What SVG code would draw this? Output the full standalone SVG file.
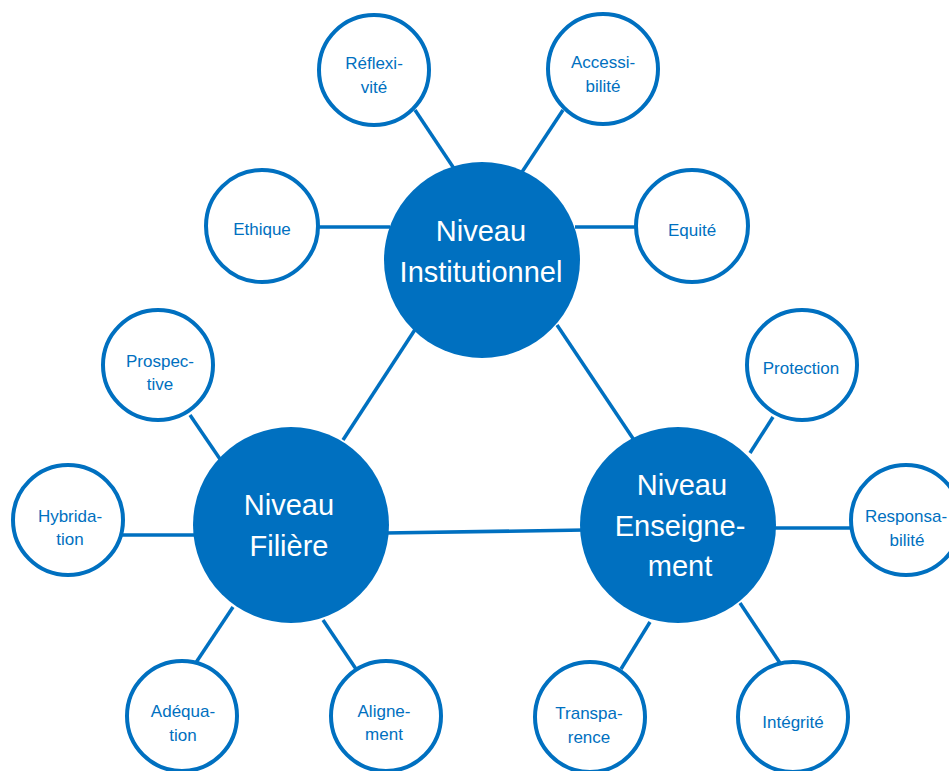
<svg xmlns="http://www.w3.org/2000/svg" width="949" height="771" viewBox="0 0 949 771">
<style>
.big{fill:#0070C0;}
.small{fill:#ffffff;stroke:#0070C0;stroke-width:4;}
.bt{font-family:"Liberation Sans",Arial,sans-serif;font-size:29px;fill:#ffffff;text-anchor:middle;}
.st{font-family:"Liberation Sans",Arial,sans-serif;font-size:17px;fill:#0070C0;text-anchor:middle;}
.conn line{stroke:#0070C0;stroke-width:3.5;}
</style>
<rect width="949" height="771" fill="#ffffff"/>
<g id="connectors" class="conn">
<line x1="415" y1="110" x2="455" y2="170"/>
<line x1="563" y1="110" x2="522" y2="172"/>
<line x1="318" y1="227" x2="390" y2="227"/>
<line x1="575" y1="227" x2="637" y2="227"/>
<line x1="343" y1="440" x2="418" y2="325"/>
<line x1="557" y1="325" x2="634" y2="440"/>
<line x1="385" y1="533" x2="585" y2="530"/>
<line x1="190" y1="415" x2="222" y2="462"/>
<line x1="122" y1="535" x2="196" y2="535"/>
<line x1="233" y1="607" x2="195" y2="664"/>
<line x1="323" y1="620" x2="356" y2="669"/>
<line x1="750" y1="453" x2="773" y2="417"/>
<line x1="772" y1="528" x2="853" y2="528"/>
<line x1="650" y1="622" x2="621" y2="669"/>
<line x1="740" y1="603" x2="780" y2="663"/>
</g>
<g id="n-institutionnel"><circle class="big" cx="482" cy="260" r="98"/><text class="bt" x="481" y="241">Niveau</text><text class="bt" x="481" y="282">Institutionnel</text></g>
<g id="n-filiere"><circle class="big" cx="291" cy="525" r="98"/><text class="bt" x="289" y="515">Niveau</text><text class="bt" x="289" y="556">Filière</text></g>
<g id="n-enseignement"><circle class="big" cx="678" cy="525" r="98"/><text class="bt" x="682" y="495">Niveau</text><text class="bt" x="680" y="536">Enseigne-</text><text class="bt" x="680" y="576">ment</text></g>
<g id="n-reflexivite"><circle class="small" cx="374" cy="70" r="55"/><text class="st" x="374" y="69">Réflexi-</text><text class="st" x="374" y="93">vité</text></g>
<g id="n-accessibilite"><circle class="small" cx="603" cy="69" r="55"/><text class="st" x="603" y="68">Accessi-</text><text class="st" x="603" y="92">bilité</text></g>
<g id="n-ethique"><circle class="small" cx="262" cy="226" r="56"/><text class="st" x="262" y="235">Ethique</text></g>
<g id="n-equite"><circle class="small" cx="692" cy="226" r="56"/><text class="st" x="692" y="236">Equité</text></g>
<g id="n-prospective"><circle class="small" cx="158" cy="365" r="55"/><text class="st" x="160" y="367">Prospec-</text><text class="st" x="160" y="390">tive</text></g>
<g id="n-hybridation"><circle class="small" cx="68" cy="520" r="55"/><text class="st" x="70" y="522">Hybrida-</text><text class="st" x="70" y="545">tion</text></g>
<g id="n-adequation"><circle class="small" cx="182" cy="716" r="55"/><text class="st" x="183" y="717">Adéqua-</text><text class="st" x="183" y="741">tion</text></g>
<g id="n-alignement"><circle class="small" cx="386" cy="716" r="55"/><text class="st" x="384" y="717">Aligne-</text><text class="st" x="384" y="740">ment</text></g>
<g id="n-protection"><circle class="small" cx="802" cy="365" r="55"/><text class="st" x="801" y="374">Protection</text></g>
<g id="n-responsabilite"><circle class="small" cx="906" cy="520" r="55"/><text class="st" x="906" y="522">Responsa-</text><text class="st" x="907" y="546">bilité</text></g>
<g id="n-transparence"><circle class="small" cx="590" cy="717" r="55"/><text class="st" x="589" y="719">Transpa-</text><text class="st" x="589" y="743">rence</text></g>
<g id="n-integrite"><circle class="small" cx="793" cy="717" r="55"/><text class="st" x="793" y="728">Intégrité</text></g>
</svg>
